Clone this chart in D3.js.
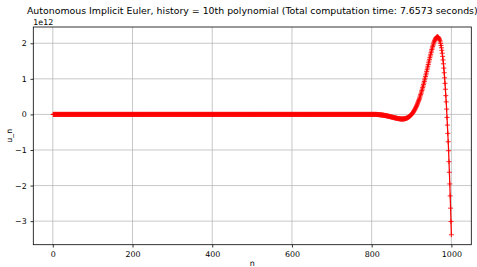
<!DOCTYPE html>
<html>
<head>
<meta charset="utf-8">
<script src="https://cdn.jsdelivr.net/npm/d3@7"></script>
<style>
  body { margin: 0; background: #fff; }
  svg { display: block; font-family: "DejaVu Sans", sans-serif; }
</style>
</head>
<body>
<div id="chart"></div>
<script>
// values of u_n, in units of 1e12 (n = ... , 998, 999, 1000)
const nLast = 1000
const uScaled = [
  0,0,0,0,0,0,0,0,0,0,0,0,0,0,0,0,0,0,0,0,0,0,0,0,0,0,0,0,0,0,0,0,0,0,0,0,0,0,0,0,0,0,0,0,0,0,0,0,0,0,
  0,0,0,0,0,0,0,0,0,0,0,0,0,0,0,0,0,0,0,0,0,0,0,0,0,0,0,0,0,0,0,0,0,0,0,0,0,0,0,0,0,0,0,0,0,0,0,0,0,0,
  0,0,0,0,0,0,0,0,0,0,0,0,0,0,0,0,0,0,0,0,0,0,0,0,0,0,0,0,0,0,0,0,0,0,0,0,0,0,0,0,0,0,0,0,0,0,0,0,0,0,
  0,0,0,0,0,0,0,0,0,0,0,0,0,0,0,0,0,0,0,0,0,0,0,0,0,0,0,0,0,0,0,0,0,0,0,0,0,0,0,0,0,0,0,0,0,0,0,0,0,0,
  0,0,0,0,0,0,0,0,0,0,0,0,0,0,0,0,0,0,0,0,0,0,0,0,0,0,0,0,0,0,0,0,0,0,0,0,0,0,0,0,0,0,0,0,0,0,0,0,0,0,
  0,0,0,0,0,0,0,0,0,0,0,0,0,0,0,0,0,0,0,0,0,0,0,0,0,0,0,0,0,0,0,0,0,0,0,0,0,0,0,0,0,0,0,0,0,0,0,0,0,0,
  0,0,0,0,0,0,0,0,0,0,0,0,0,0,0,0,0,0,0,0,0,0,0,0,0,0,0,0,0,0,0,0,0,0,0,0,0,0,0,0,0,0,0,0,0,0,0,0,0,0,
  0,0,0,0,0,0,0,0,0,0,0,0,0,0,0,0,0,0,0,0,0,0,0,0,0,0,0,0,0,0,0,0,0,0,0,0,0,0,0,0,0,0,0,0,0,0,0,0,0,0,
  0,0,0,0,0,0,0,0,0,0,0,0,0,0,0,0,0,0,0,0,0,0,0,0,0,0,0,0,0,0,0,0,0,0,0,0,0,0,0,0,0,0,0,0,0,0,0,0,0,0,
  0,0,0,0,0,0,0,0,0,0,0,0,0,0,0,0,0,0,0,0,0,0,0,0,0,0,0,0,0,0,0,0,0,0,0,0,0,0,0,0,0,0,0,0,0,0,0,0,0,0,
  0,0,0,0,0,0,0,0,0,0,0,0,0,0,0,0,0,0,0,0,0,0,0,0,0,0,0,0,0,0,0,0,0,0,0,0,0,0,0,0,0,0,0,0,0,0,0,0,0,0,
  0,0,0,0,0,0,0,0,0,0,0,0,0,0,0,0,0,0,0,0,0,0,0,0,0,0,0,0,0,0,0,0,0,0,0,0,0,0,0,0,0,0,0,0,0,0,0,0,0,0,
  0,0,0,0,0,0,0,0,0,0,0,0,0,0,0,0,0,0,0,0,0,0,0,0,0,0,0,0,0,0,0,0,0,0,0,0,0,0,0,0,0,0,0,0,0,0,0,0,0,0,
  0,0,0,0,0,0,0,0,0,0,0,0,0,0,0,0,0,0,0,0,0,0,0,0,0,0,0,0,0,0,0,0,0,0,0,0,0,0,0,0,0,0,0,0,0,0,0,0,0,0,
  0,0,0,0,0,0,0,0,0,0,0,0,0,0,0,0,0,0,0,0,0,0,0,0,0,0,0,0,0,0,0,0,0,0,0,0,0,0,0,0,0,0,0,0,0,0,0,0,0,0,
  0,0,0,0,0,0,0,0,0,0,0,0,0,0,0,0,0,0,0,0,0,0,0,0,0,0,0,0,0,0,0,0,0,0,0,0,0,0,0,0,0,0,0,0,0,0,0,0,0,0,
  0,0,0,0,0,0,0,0,0,0,0,
  -0.0005,-0.0013,-0.0022,-0.0031,-0.0041,-0.0051,-0.0062,-0.0073,
  -0.0086,-0.0098,-0.0112,-0.0125,-0.0140,-0.0155,-0.0171,-0.0187,-0.0205,-0.0222,
  -0.0241,-0.0260,-0.0279,-0.0300,-0.0320,-0.0342,-0.0364,-0.0387,-0.0410,-0.0434,
  -0.0459,-0.0484,-0.0510,-0.0536,-0.0562,-0.0589,-0.0616,-0.0644,-0.0672,-0.0700,
  -0.0729,-0.0758,-0.0786,-0.0815,-0.0844,-0.0873,-0.0901,-0.0930,-0.0958,-0.0985,
  -0.1012,-0.1038,-0.1065,-0.1089,-0.1114,-0.1136,-0.1158,-0.1180,-0.1198,-0.1216,
  -0.1233,-0.1247,-0.1259,-0.1269,-0.1276,-0.1282,-0.1284,-0.1284,-0.1281,-0.1274,
  -0.1264,-0.1250,-0.1233,-0.1211,-0.1185,-0.1155,-0.1120,-0.1080,-0.1034,-0.0984,
  -0.0928,-0.0865,-0.0797,-0.0723,-0.0641,-0.0553,-0.0458,-0.0355,-0.0245,-0.0126,
  0,0.0135,0.0278,0.0430,0.0591,0.0761,0.0941,0.1130,0.1330,0.1538,
  0.1757,0.1987,0.2227,0.2478,0.2739,0.3012,0.3294,0.3589,0.3893,0.4209,
  0.4538,0.4875,0.5224,0.5584,0.5954,0.6333,0.6724,0.7125,0.7535,0.7956,
  0.8385,0.8822,0.9266,0.9720,1.0179,1.0647,1.1118,1.1595,1.2077,1.2561,
  1.3050,1.3539,1.4028,1.4515,1.5001,1.5485,1.5964,1.6436,1.6901,1.7357,
  1.7805,1.8240,1.8657,1.9061,1.9443,1.9808,2.0148,2.0463,2.0754,2.1012,
  2.1242,2.1432,2.1589,2.1702,2.1769,2.1790,2.1769,2.1687,2.1551,2.1351,
  2.1101,2.0778,2.0378,1.9905,1.9358,1.8729,1.8019,1.7206,1.6312,1.5316,
  1.4226,1.3023,1.1707,1.0281,0.8734,0.7071,0.5273,
  0.353,0.149,-0.084,-0.300,-0.533,-0.768,-1.020,-1.329,-1.626,-1.954,
  -2.290,-2.635,-3.011,-3.384
]
const xTicks = [0, 200, 400, 600, 800, 1000]
const yTicks = [-3, -2, -1, 0, 1, 2]
const offsetLabel = '1e12'
const titleText = 'Autonomous Implicit Euler, history = 10th polynomial (Total computation time: 7.6573 seconds)'

const W = 477, H = 267
const plot = { left: 33.3, right: 471.3, top: 27, bottom: 244.7 }

// pair each value with its n, counting back from the last step
const data = uScaled.map((v, i) => ({ n: nLast - (uScaled.length - 1 - i), u: v }))

const svg = d3.select('#chart').append('svg')
  .attr('width', W).attr('height', H)

// matplotlib-like 5% margins
const nExt = d3.extent(data, d => d.n)
const uExt = d3.extent(data, d => d.u)
const nPad = (nExt[1] - nExt[0]) * 0.05
const uPad = (uExt[1] - uExt[0]) * 0.05

const x = d3.scaleLinear()
  .domain([nExt[0] - nPad, nExt[1] + nPad])
  .range([plot.left, plot.right])
const y = d3.scaleLinear()
  .domain([uExt[0] - uPad, uExt[1] + uPad])
  .range([plot.bottom, plot.top])

const fmt = v => String(v).replace('-', '\u2212')

// grid
const grid = svg.append('g').attr('stroke', '#b0b0b0').attr('stroke-width', 0.7)
grid.selectAll('.gx').data(xTicks).enter().append('line')
  .attr('x1', d => x(d)).attr('x2', d => x(d))
  .attr('y1', plot.top).attr('y2', plot.bottom)
grid.selectAll('.gy').data(yTicks).enter().append('line')
  .attr('x1', plot.left).attr('x2', plot.right)
  .attr('y1', d => y(d)).attr('y2', d => y(d))

// line + markers
const clip = svg.append('clipPath').attr('id', 'clip')
  .append('rect')
  .attr('x', plot.left).attr('y', plot.top)
  .attr('width', plot.right - plot.left).attr('height', plot.bottom - plot.top)

const marks = svg.append('g').attr('clip-path', 'url(#clip)')

marks.append('path')
  .datum(data)
  .attr('fill', 'none')
  .attr('stroke', 'red')
  .attr('stroke-width', 1.25)
  .attr('d', d3.line().x(d => x(d.n)).y(d => y(d.u)))

marks.append('g')
  .selectAll('path')
  .data(data)
  .enter().append('path')
  .attr('transform', d => 'translate(' + x(d.n) + ',' + y(d.u) + ')')
  .attr('d', 'M-2.5,0H2.5M0,-2.5V2.5')
  .attr('stroke', 'red')
  .attr('stroke-width', 0.85)

// axes
const xAxis = svg.append('g')
  .attr('transform', 'translate(0,' + plot.bottom + ')')
  .call(d3.axisBottom(x).tickValues(xTicks).tickFormat(fmt).tickSize(2.8).tickPadding(3.6))
const yAxis = svg.append('g')
  .attr('transform', 'translate(' + plot.left + ',0)')
  .call(d3.axisLeft(y).tickValues(yTicks).tickFormat(fmt).tickSize(2.8).tickPadding(3.8))

;[xAxis, yAxis].forEach(a => {
  a.select('.domain').remove()
  a.selectAll('line').attr('stroke', '#000').attr('stroke-width', 0.8)
  a.selectAll('text')
    .attr('fill', '#000')
    .style('font-family', '"DejaVu Sans", sans-serif')
    .style('font-size', '7.9px')
})

// frame
svg.append('rect')
  .attr('x', plot.left).attr('y', plot.top)
  .attr('width', plot.right - plot.left).attr('height', plot.bottom - plot.top)
  .attr('fill', 'none')
  .attr('stroke', '#000')
  .attr('stroke-width', 0.8)

// offset text, labels, title
svg.append('text')
  .attr('x', plot.left).attr('y', 24.5)
  .style('font-size', '7.9px')
  .text(offsetLabel)

svg.append('text')
  .attr('x', (plot.left + plot.right) / 2).attr('y', 266)
  .attr('text-anchor', 'middle')
  .style('font-size', '7.9px')
  .text('n')

svg.append('text')
  .attr('transform', 'translate(12,' + ((plot.top + plot.bottom) / 2) + ') rotate(-90)')
  .attr('text-anchor', 'middle')
  .style('font-size', '7.9px')
  .text('u_n')

svg.append('text')
  .attr('x', (plot.left + plot.right) / 2).attr('y', 13.5)
  .attr('text-anchor', 'middle')
  .style('font-size', '9.4px')
  .text(titleText)
</script>
</body>
</html>
